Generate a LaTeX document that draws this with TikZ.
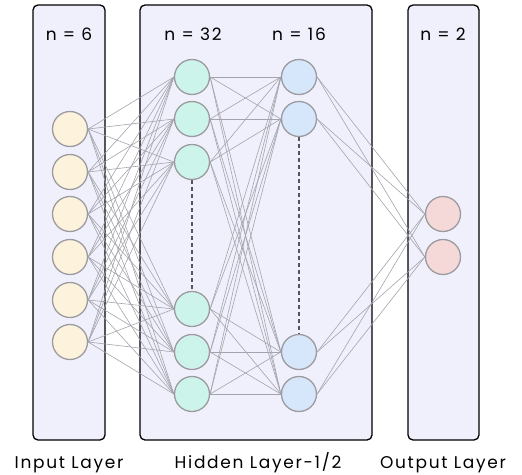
\documentclass[tikz,border=0pt]{standalone}
\usepackage{fontspec}
\setmainfont{Poppins}[LetterSpace=10]
\definecolor{panelbg}{HTML}{F0F0FC}
\definecolor{nborder}{HTML}{9C9CA0}
\definecolor{edgec}{HTML}{A4A4AC}
\definecolor{inc}{HTML}{FDF3DC}
\definecolor{hac}{HTML}{CDF4EA}
\definecolor{hbc}{HTML}{D6E6FB}
\definecolor{outc}{HTML}{F5D8D8}
\definecolor{dashc}{HTML}{555558}
\pgfdeclarelayer{back}
\pgfdeclarelayer{mid}
\pgfsetlayers{back,mid,main}
\begin{document}
\begin{tikzpicture}[x=1pt,y=-1pt,
  panel/.style={draw=black, line width=1.3pt, rounded corners=5pt, fill=panelbg, inner sep=0pt},
  neuron/.style={circle, draw=nborder, line width=1.3pt, minimum size=35pt, inner sep=0pt},
  edge/.style={draw=edgec, line width=0.6pt},
  dots/.style={draw=dashc, line width=1.1pt, dash pattern=on 4pt off 3pt},
  lbl/.style={font=\fontsize{17}{20}\selectfont, inner sep=0pt, anchor=base}
]
\useasboundingbox (0,0) rectangle (522,474);
\begin{pgfonlayer}{back}
\node[panel, minimum width=72pt, minimum height=435pt] (pin) at (69,222.5) {};
\node[panel, minimum width=232pt, minimum height=435pt] (phid) at (256,222.5) {};
\node[panel, minimum width=71pt, minimum height=435pt] (pout) at (443.5,222.5) {};
\end{pgfonlayer}
% labels
\node[lbl] (t1) at (69,40) {n = 6};
\node[lbl] (t2) at (193,40) {n = 32};
\node[lbl] (t3) at (299,40) {n = 16};
\node[lbl] (t4) at (443,40) {n = 2};
\node[lbl] (b1) at (69,468) {Input Layer};
\node[lbl] (b2) at (258,468) {Hidden Layer-1/2};
\node[lbl] (b3) at (443,468) {Output Layer};
% neurons
\foreach \y [count=\i] in {129,172,214,257,300,342}
  \node[neuron, fill=inc] (i\i) at (70,\y) {};
\foreach \y [count=\i] in {77,119,162,309,352,394}
  \node[neuron, fill=hac] (a\i) at (192,\y) {};
\foreach \y [count=\i] in {77,119,352,394}
  \node[neuron, fill=hbc] (b\i) at (299,\y) {};
\foreach \y [count=\i] in {214,257}
  \node[neuron, fill=outc] (o\i) at (443,\y) {};
% edges
\begin{pgfonlayer}{mid}
\foreach \i in {1,...,6}
  \foreach \j in {1,...,6}
    \draw[edge] (i\i.east) -- (a\j.west);
\foreach \j in {1,...,6}
  \foreach \k in {1,...,4}
    \draw[edge] (a\j.east) -- (b\k.west);
\foreach \k in {1,...,4}
  \foreach \m in {1,2}
    \draw[edge] (b\k.east) -- (o\m.west);
\draw[dots] (a3.south) -- (a4.north);
\draw[dots] (b2.south) -- (b3.north);
\end{pgfonlayer}
\end{tikzpicture}
\end{document}
